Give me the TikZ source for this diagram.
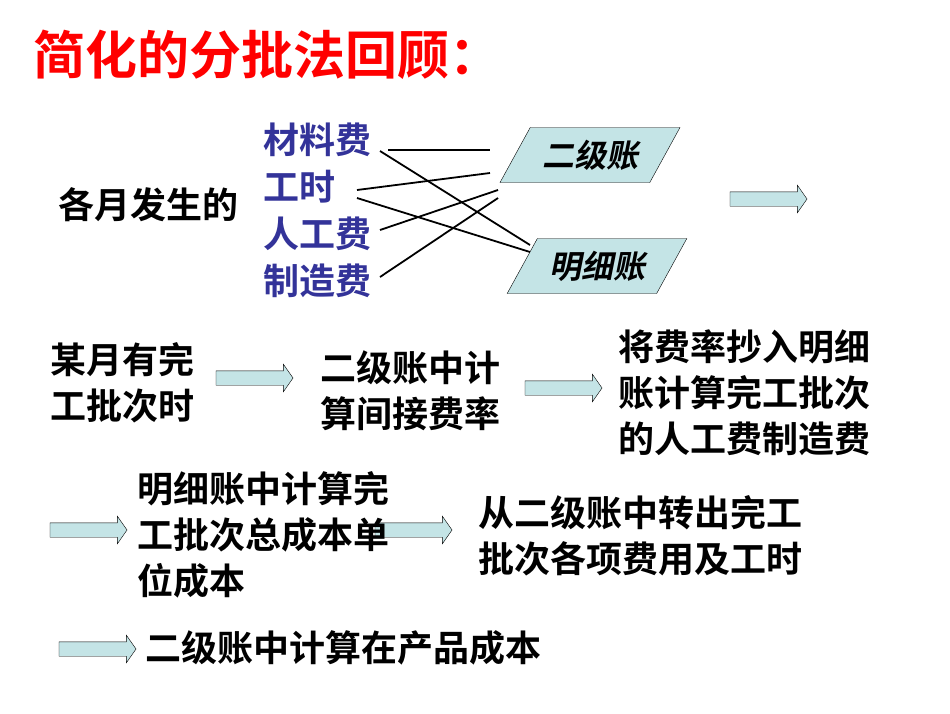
\documentclass[tikz,border=0pt]{standalone}
\usepackage{fontspec}
\setmainfont{Noto Sans CJK SC}[BoldFont={Noto Sans CJK SC Bold}]
\newfontfamily\slantcjk{Noto Sans CJK SC Bold}[FakeSlant=0.2]
\usetikzlibrary{shapes.arrows,shapes.geometric}
\definecolor{fillc}{RGB}{196,228,230}
\definecolor{itemc}{RGB}{51,51,153}
\tikzset{
  blk/.style={single arrow, draw=black, fill=fillc, thin, minimum height=77pt, minimum width=27pt,
    single arrow head extend=6.5pt, inner xsep=0pt, inner ysep=7pt, single arrow tip angle=110},
  acct/.style={trapezium, trapezium stretches=true, draw=black, fill=fillc, thin, trapezium left angle=55, trapezium right angle=125, minimum width=180pt, minimum height=55pt, font=\slantcjk\fontsize{32}{34}\selectfont},
  txt/.style={font=\bfseries\fontsize{36}{46}\selectfont, align=left, inner sep=0pt, anchor=west},
  item/.style={txt, text=itemc}
}
\begin{document}
\begin{tikzpicture}[x=1pt,y=-1pt]
  \useasboundingbox (0,0) rectangle (950,713);
  \node[txt, text=red, font=\bfseries\fontsize{52}{56}\selectfont] (title) at (33,55) {简化的分批法回顾：};
  \node[txt] (month) at (58,205) {各月发生的};
  \node[item] (mat) at (263,140) {材料费};
  \node[item] (hrs) at (263,187) {工时};
  \node[item] (lab) at (263,234) {人工费};
  \node[item] (ovh) at (263,281) {制造费};
  % ledgers
  \node[acct] (sec) at (590,155) {二级账};
  \node[acct] (det) at (597,266) {明细账};
  % connectors
  \coordinate (m1) at (388,150); \coordinate (m2) at (380,151);
  \coordinate (h1) at (357,190); \coordinate (h2) at (357,198);
  \coordinate (l1) at (380,230); \coordinate (o1) at (380,277);
  \coordinate (s1) at (490,150); \coordinate (s2) at (490,173);
  \coordinate (s3) at (498,190); \coordinate (s4) at (498,198);
  \coordinate (d1) at (530,245); \coordinate (d2) at (530,252);
  \draw[line width=1.8pt] (m1) -- (s1);
  \draw[line width=1.8pt] (m2) -- (d1);
  \draw[line width=1.8pt] (h1) -- (s2);
  \draw[line width=1.8pt] (h2) -- (d2);
  \draw[line width=1.8pt] (l1) -- (s3);
  \draw[line width=1.8pt] (o1) -- (s4);
  % block arrows
  \node[blk] (a1) at (766,199) {};
  \node[blk] (a2) at (252,378) {};
  \node[blk] (a3) at (561,388) {};
  \node[blk] (a4) at (86,530) {};
  \node[blk] (a5) at (411,530) {};
  \node[blk] (a6) at (95,649) {};
  % steps
  \node[txt] (s1t) at (50,383) {某月有完\\工批次时};
  \node[txt] (s2t) at (320,391) {二级账中计\\算间接费率};
  \node[txt] (s3t) at (618,393) {将费率抄入明细\\账计算完工批次\\的人工费制造费};
  \node[txt] (s4t) at (137,535) {明细账中计算完\\工批次总成本单\\位成本};
  \node[txt] (s5t) at (478,536) {从二级账中转出完工\\批次各项费用及工时};
  \node[txt] (s6t) at (145,648) {二级账中计算在产品成本};
\end{tikzpicture}
\end{document}
